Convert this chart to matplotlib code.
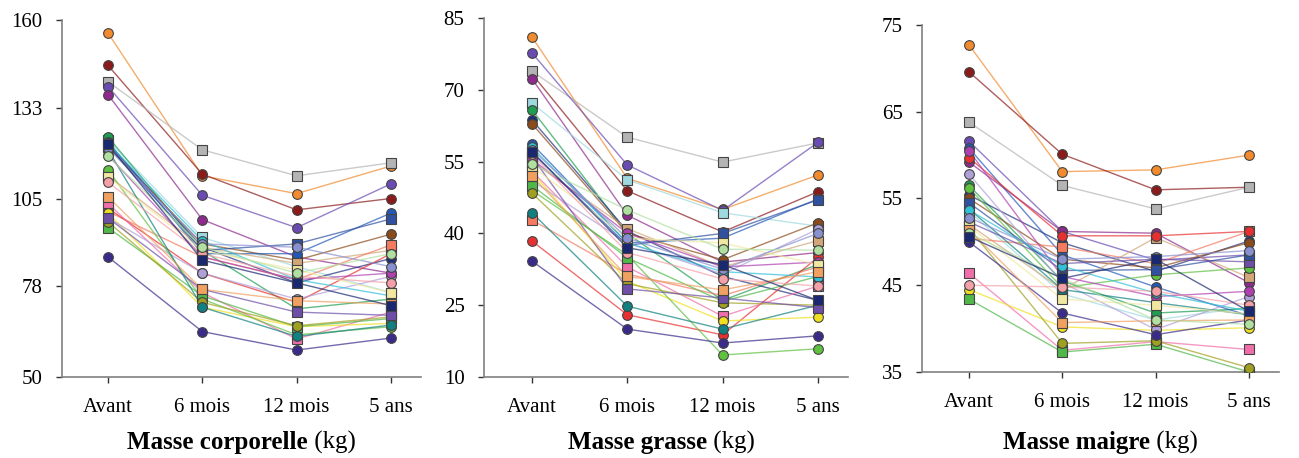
import matplotlib
matplotlib.use("Agg")
import matplotlib.pyplot as plt

# ── Data ──────────────────────────────────────────────────────────────────────
times = ["Avant", "6 mois", "12 mois", "5 ans"]

colors = ["#F28A2E", "#8B1A1A", "#B4B4B4", "#6A4BB3", "#8E2A8E", "#9ED9E0",
          "#1E9E50", "#1F2E7A", "#8B4A1A", "#2358B8", "#D2A679", "#F47A60",
          "#E83030", "#F06EAA", "#F0E020", "#B0A0D8", "#60C040", "#50B848",
          "#A0A020", "#108080", "#6E4FA8", "#3A2A8A", "#3050A0", "#B040B0",
          "#30C0D8", "#F0E8A0", "#F0A060", "#F4A0A8", "#8890D0", "#B0E0A0",
          "#1A2870"]
markers = ["o", "o", "s", "o", "o", "s", "o", "o", "o", "o", "s", "s",
           "o", "s", "o", "o", "o", "s", "o", "o", "s", "o", "s", "o",
           "o", "s", "s", "o", "o", "o", "s"]

body_mass = [
    [156, 112, 106.5, 115], [146, 112.5, 101.5, 105], [141, 120, 112, 116],
    [139.5, 106, 96, 109.5], [137, 98.5, 87, 82], [123, 93, 84, 76],
    [124, 89, 71, 74], [122, 90, 79, 86.5], [121, 91, 86, 94],
    [122.5, 88, 88, 100.5], [112, 90, 85, 89], [101, 87, 80, 90.7],
    [102, 82, 73, 88], [103.5, 76, 61.7, 70], [100.5, 71.5, 65.5, 66.5],
    [99, 82, 74, 81], [113.8, 74, 63, 65.5], [96, 75, 65.5, 68],
    [97.8, 73, 65.8, 68.5], [120, 71.5, 62.5, 66], [99, 77, 70, 69],
    [87, 64, 58.3, 62], [121, 89, 91, 98.7], [118.4, 87, 80, 82],
    [122, 92, 80, 75], [111.6, 89, 83, 76], [105.5, 77, 73.5, 72.5],
    [110, 88, 81, 79], [120.5, 91, 90, 84], [118, 90, 82, 88],
    [121.8, 86, 79, 72],
]

fat_mass = [
    [81, 51.5, 45, 52.2], [73.3, 48.9, 40.3, 48.7], [73.9, 60.1, 54.9, 58.9],
    [77.7, 54.3, 44.8, 59], [72.3, 43.8, 34, 36], [67.2, 51.2, 44.3, 41.5],
    [65.8, 40, 26, 33.5], [63.7, 40.5, 31, 26], [62.9, 40, 34.5, 42.2],
    [58.7, 38, 39, 47.2], [55, 41, 33, 38.5], [42.8, 31.5, 27, 33],
    [38.4, 23, 18.8, 35], [53, 33, 22.7, 29], [52.8, 30, 21.7, 22.5],
    [51, 38, 31.5, 40.9], [49, 35.5, 14.6, 15.9], [50, 34.9, 25.8, 31],
    [48.4, 29.5, 25.5, 25], [44.3, 24.8, 20, 25], [56, 28.4, 26.5, 24.5],
    [34.2, 20, 17.1, 18.6], [57, 37.5, 40, 47], [55.5, 40, 33, 34],
    [58, 38, 32, 30.9], [54, 39, 38, 33.5], [52, 31, 28.2, 32],
    [56.5, 36, 30.5, 29], [57.5, 39, 32.5, 40], [54.5, 44.9, 36.7, 36.5],
    [57, 37, 33.5, 26],
]

lean_mass = [
    [72.7, 58.1, 58.3, 60], [69.6, 60.1, 56, 56.3], [63.8, 56.5, 53.8, 56.3],
    [61.6, 51.2, 47.9, 48.5], [59.2, 51.2, 51, 45.3], [53.5, 44, 41, 42.5],
    [56.5, 45.5, 41.8, 42.3], [55.4, 49.9, 46.6, 50.1], [55, 48, 47, 49.9],
    [60.8, 48.5, 44.8, 41.5], [52, 44.5, 50.5, 45.9], [50.4, 49.4, 47.5, 51.2],
    [59.7, 50.7, 50.7, 51.2], [46.4, 37.5, 38.5, 37.6], [44.5, 40.2, 39.8, 40.1],
    [57.8, 45.3, 39.9, 43.7], [56.2, 44.7, 46.2, 47], [43.4, 37.3, 38.2, 35],
    [51.6, 38.3, 38.6, 35.5], [53.8, 44.5, 43, 41.6], [52.3, 47.5, 48, 47.7],
    [50, 41.8, 39.3, 41], [54.5, 46.7, 46.8, 48.5], [60.5, 46, 43.7, 44.3],
    [53.7, 47.2, 44.1, 42], [51.8, 43.4, 42.7, 41.7], [51.4, 40.7, 40.9, 41],
    [45, 44.8, 44.3, 42.7], [52.8, 48, 48.3, 49], [51, 45.8, 41, 40.5],
    [50.6, 45.8, 48, 42],
]

panels = [
    ("Masse corporelle", body_mass, (50, 160), [50, 78, 105, 133, 160]),
    ("Masse grasse", fat_mass, (10, 85), [10, 25, 40, 55, 70, 85]),
    ("Masse maigre", lean_mass, (35, 75), [35, 45, 55, 65, 75]),
]

# layout in pixels: (left spine x, x of "Avant", x step, top y, bottom y, title start x)
W, H = 1299, 458
boxes = [(62, 108, 94.3, 20, 377, 127),
         (484, 532, 95.3, 18, 377, 568),
         (922, 969, 93.3, 25, 372, 1003)]

plt.rcParams["font.family"] = ["Liberation Serif", "DejaVu Serif"]
fig = plt.figure(figsize=(W / 100, H / 100), dpi=100)

for (title, data, ylim, yticks), (xl, x0, dx, yt, yb, xt) in zip(panels, boxes):
    xmin, xmax = -(x0 - xl) / dx, 3.32
    width = (xmax - xmin) * dx
    ax = fig.add_axes([xl / W, 1 - yb / H, width / W, (yb - yt) / H])
    for vals, c, m in zip(data, colors, markers):
        ax.plot(range(4), vals, "-", color=c, lw=1.0, alpha=0.7, zorder=2)
        ax.plot(range(4), vals, m, color=c, ms=7, mec="#444444",
                mew=0.8, zorder=3)
    ax.set_xlim(xmin, xmax)
    ax.set_ylim(*ylim)
    ax.set_yticks(yticks)
    ax.set_xticks(range(4))
    ax.set_xticklabels(times)
    for s in ["top", "right"]:
        ax.spines[s].set_visible(False)
    for s in ["left", "bottom"]:
        ax.spines[s].set_color("#808080")
        ax.spines[s].set_linewidth(1.2)
    ax.tick_params(labelsize=15, colors="#333333", length=4, width=1,
                   labelcolor="black", pad=10)
    ax.tick_params(axis="x", pad=11)
    # title: bold name + regular "(kg)"
    t = fig.text(xt / W, 1 - 443 / H, title, fontsize=18, fontweight="bold",
                 ha="left", va="center")
    ax.annotate(" (kg)", xy=(1, 0), xycoords=t, fontsize=18, va="bottom")

fig.savefig("out.png", dpi=100)
